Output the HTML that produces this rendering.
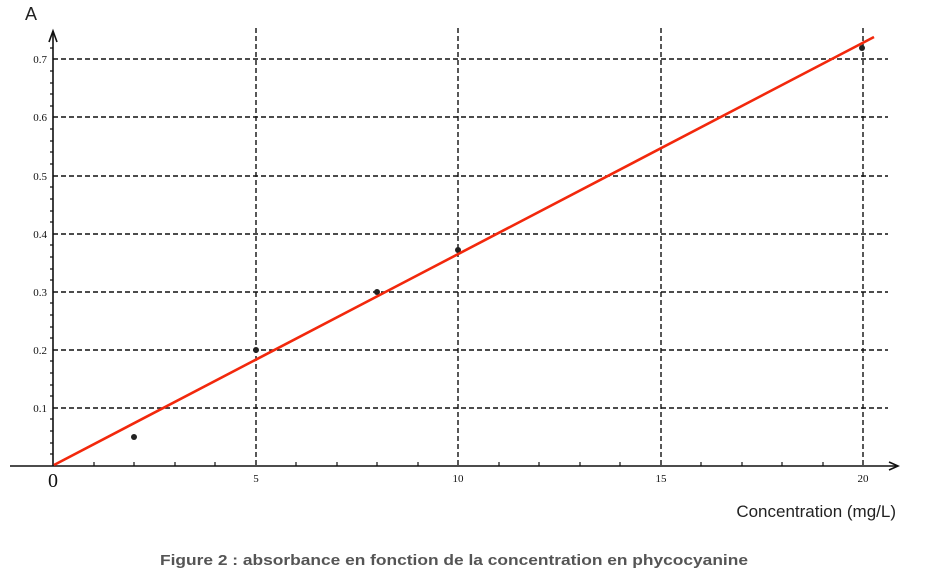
<!DOCTYPE html>
<html><head><meta charset="utf-8"><style>
html,body{margin:0;padding:0;background:#fff;}
svg{display:block;}
</style></head><body>
<svg width="925" height="577" viewBox="0 0 925 577" xmlns="http://www.w3.org/2000/svg">
<g stroke="#111" stroke-width="1.4" stroke-dasharray="5,3" fill="none">
<line x1="256" y1="28" x2="256" y2="466"/>
<line x1="458" y1="28" x2="458" y2="466"/>
<line x1="661" y1="28" x2="661" y2="466"/>
<line x1="863" y1="28" x2="863" y2="466"/>
<line x1="53" y1="59" x2="888" y2="59"/>
<line x1="53" y1="117" x2="888" y2="117"/>
<line x1="53" y1="176" x2="888" y2="176"/>
<line x1="53" y1="234" x2="888" y2="234"/>
<line x1="53" y1="292" x2="888" y2="292"/>
<line x1="53" y1="350" x2="888" y2="350"/>
<line x1="53" y1="408" x2="888" y2="408"/>
</g>
<g stroke="#111" stroke-width="1.6" fill="none">
<line x1="10" y1="466" x2="897" y2="466"/>
<path d="M889,462 L898,466 L889,470"/>
<line x1="53" y1="466" x2="53" y2="32"/>
<path d="M49,42 L53,31 L57,42"/>
</g>
<g stroke="#111" stroke-width="1.2">
<path d="M94,466v-4M134,466v-4M175,466v-4M215,466v-4M296,466v-4M337,466v-4M377,466v-4M418,466v-4M499,466v-4M539,466v-4M580,466v-4M620,466v-4M701,466v-4M742,466v-4M782,466v-4M823,466v-4"/>
<path d="M50,454h3M50,443h3M50,431h3M50,419h3M50,396h3M50,385h3M50,373h3M50,361h3M50,338h3M50,327h3M50,315h3M50,303h3M50,280h3M50,269h3M50,257h3M50,245h3M50,222h3M50,211h3M50,199h3M50,187h3M50,164h3M50,152h3M50,141h3M50,129h3M50,106h3M50,94h3M50,83h3M50,71h3M50,48h3"/>
</g>
<g font-family="Liberation Serif, serif" font-size="11" fill="#111">
<text x="47" y="63" text-anchor="end">0.7</text>
<text x="47" y="121" text-anchor="end">0.6</text>
<text x="47" y="180" text-anchor="end">0.5</text>
<text x="47" y="238" text-anchor="end">0.4</text>
<text x="47" y="296" text-anchor="end">0.3</text>
<text x="47" y="354" text-anchor="end">0.2</text>
<text x="47" y="412" text-anchor="end">0.1</text>
<text x="256" y="482" text-anchor="middle">5</text>
<text x="458" y="482" text-anchor="middle">10</text>
<text x="661" y="482" text-anchor="middle">15</text>
<text x="863" y="482" text-anchor="middle">20</text>
</g>
<text x="53" y="487" font-family="Liberation Serif, serif" font-size="20" fill="#111" text-anchor="middle">0</text>
<text x="25" y="20" font-family="Liberation Sans, sans-serif" font-size="18" fill="#222">A</text>
<text x="896" y="517" font-family="Liberation Sans, sans-serif" font-size="17" fill="#222" text-anchor="end">Concentration (mg/L)</text>
<text x="160" y="565" font-family="Liberation Sans, sans-serif" font-size="15" font-weight="bold" fill="#555" textLength="588" lengthAdjust="spacingAndGlyphs">Figure 2 : absorbance en fonction de la concentration en phycocyanine</text>
<g fill="#222">
<circle cx="134" cy="437" r="3"/>
<circle cx="256" cy="350" r="3"/>
<circle cx="377" cy="292" r="3"/>
<circle cx="458" cy="250" r="3"/>
<circle cx="862" cy="48" r="3"/>
</g>
<line x1="54" y1="465" x2="874" y2="37" stroke="#f2280c" stroke-width="2.6"/>
</svg>
</body></html>
